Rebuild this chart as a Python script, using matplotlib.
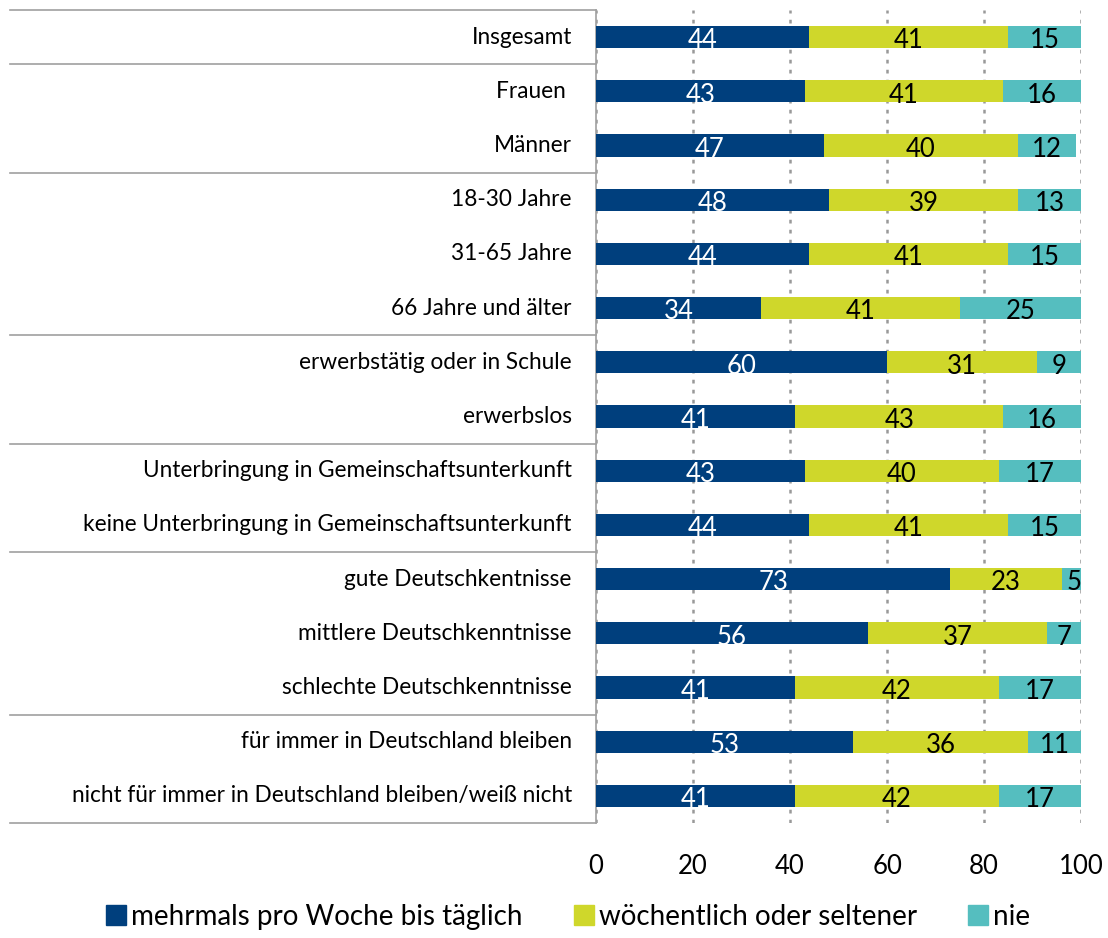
import numpy as np
import matplotlib.pyplot as plt
from matplotlib.lines import Line2D

plt.rcParams['font.family'] = ['Lato', 'DejaVu Sans']

categories = [
    "Insgesamt",
    "Frauen ",
    "Männer",
    "18-30 Jahre",
    "31-65 Jahre",
    "66 Jahre und älter",
    "erwerbstätig oder in Schule",
    "erwerbslos",
    "Unterbringung in Gemeinschaftsunterkunft",
    "keine Unterbringung in Gemeinschaftsunterkunft",
    "gute Deutschkentnisse",
    "mittlere Deutschkenntnisse",
    "schlechte Deutschkenntnisse",
    "für immer in Deutschland bleiben",
    "nicht für immer in Deutschland bleiben/weiß nicht",
]
often = [44, 43, 47, 48, 44, 34, 60, 41, 43, 44, 73, 56, 41, 53, 41]
weekly = [41, 41, 40, 39, 41, 41, 31, 43, 40, 41, 23, 37, 42, 36, 42]
never = [15, 16, 12, 13, 15, 25, 9, 16, 17, 15, 5, 7, 17, 11, 17]
series_names = ["mehrmals pro Woche bis täglich", "wöchentlich oder seltener", "nie"]
colors = ["#003F7D", "#CFD72B", "#55BEBF"]
text_colors = ["white", "black", "black"]

# rows after which a separator line is drawn in the label column
group_breaks = [0, 2, 5, 7, 9, 12]

fig = plt.figure(figsize=(11.08, 9.38), dpi=100)
ax = fig.add_axes([0.538, 0.1226, 0.4377, 0.8667])

y = np.arange(len(categories))
left = np.zeros(len(categories))
for vals, name, col, tcol in zip([often, weekly, never], series_names, colors, text_colors):
    vals = np.array(vals)
    ax.barh(y, vals, left=left, height=0.41, color=col, label=name, zorder=3)
    for yi, l, v in zip(y, left, vals):
        ax.text(l + v / 2, yi + 0.07, str(v), ha='center', va='center',
                color=tcol, fontsize=18.5, zorder=4)
    left = left + vals

ax.set_xlim(0, 100)
ax.set_ylim(len(categories) - 0.5, -0.5)
ax.set_xticks([0, 20, 40, 60, 80, 100])
ax.tick_params(axis='x', length=0, labelsize=18.5, pad=22)
ax.tick_params(axis='y', length=0)
ax.set_yticks([])
ax.grid(axis='x', color='#999999', linestyle=(0, (1.5, 2.5)), linewidth=1.8, zorder=1)

for s in ['top', 'right', 'bottom']:
    ax.spines[s].set_visible(False)
ax.spines['left'].set_color('#a0a0a0')
ax.spines['left'].set_linewidth(1.2)

# category labels and group separators left of the plot
x_left = -1.208
for yi, cat in zip(y, categories):
    ax.text(-0.05, yi, cat, transform=ax.get_yaxis_transform(), ha='right',
            va='center', fontsize=16.3)
sep_rows = [-0.5] + [b + 0.5 for b in group_breaks] + [len(categories) - 0.5]
for sy in sep_rows:
    ax.plot([x_left, 0], [sy, sy], transform=ax.get_yaxis_transform(),
            color='#a0a0a0', linewidth=1.2, clip_on=False)

handles = [Line2D([], [], marker='s', linestyle='none', markersize=15,
                  markerfacecolor=c, markeredgecolor=c) for c in colors]
fig.legend(handles, series_names, loc='lower center', bbox_to_anchor=(0.511, -0.018),
           ncol=3, frameon=False, fontsize=20, handletextpad=0.05,
           columnspacing=1.7, handlelength=1.0)

fig.savefig('out.png', dpi=100)
